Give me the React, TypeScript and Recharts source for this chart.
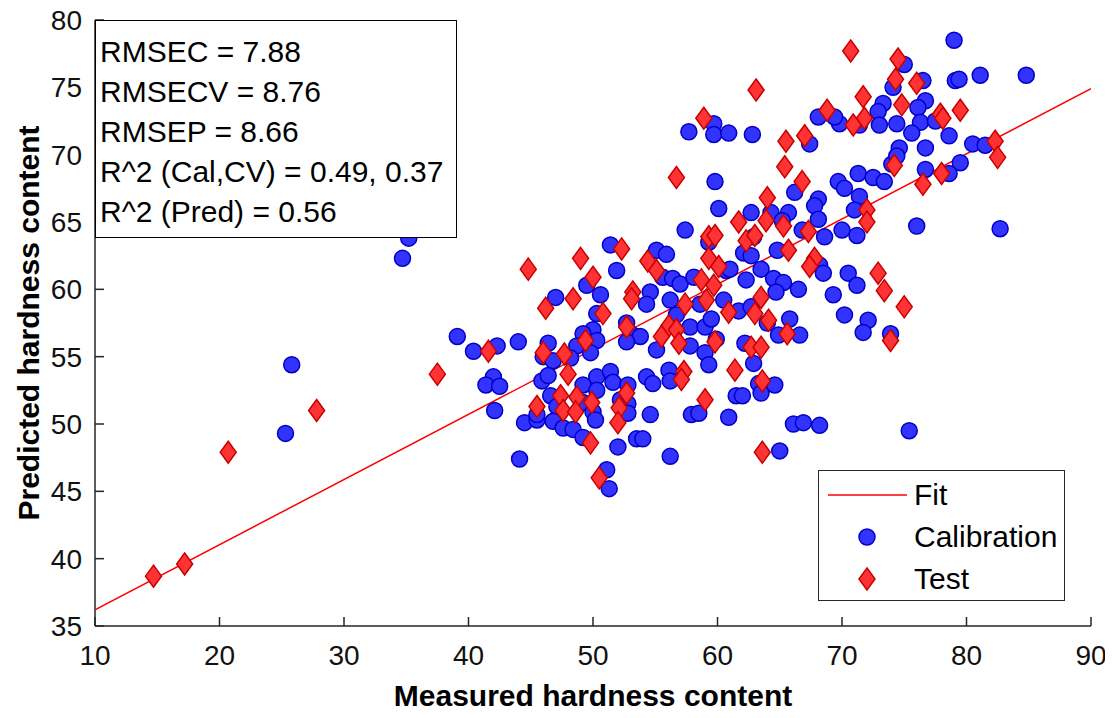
import React from 'react';
import { ScatterChart, Scatter, XAxis, YAxis, Legend } from 'recharts';

// axis ticks
const xTicks = [10, 20, 30, 40, 50, 60, 70, 80, 90];
const yTicks = [35, 40, 45, 50, 55, 60, 65, 70, 75, 80];

// calibration set (measured, predicted)
const calMeasured = [
  25.3, 25.8, 34.7, 35.2, 39.1, 40.4, 42.3, 44.0, 42.0, 41.4, 42.5, 42.1, 44.5, 45.5, 44.1, 47.0, 49.5, 50.6, 51.4, 51.9,
  50.3, 50.0, 49.2, 50.3, 48.7, 49.8, 46.4, 46.0, 46.8, 48.2, 45.9, 46.4, 46.6, 47.1, 45.5, 46.8, 47.6, 48.4, 49.2, 50.3,
  51.4, 51.6, 50.3, 49.2, 50.0, 50.2, 52.2, 52.8, 52.8, 49.2, 52.0, 51.1, 53.5, 54.0, 54.6, 56.2, 52.7, 53.2, 53.8, 52.7,
  54.6, 54.3, 55.1, 55.9, 55.6, 56.4, 57.0, 56.2, 56.7, 57.8, 57.8, 59.0, 59.3, 55.1, 54.3, 54.8, 56.1, 56.2, 57.4, 58.1,
  58.6, 59.0, 59.5, 59.9, 57.9, 60.9, 61.5, 60.7, 60.5, 57.7, 59.7, 59.7, 60.9, 59.8, 60.1, 79.0, 75.0, 74.1, 76.5, 79.1,
  79.4, 81.1, 84.8, 76.7, 76.1, 73.3, 72.9, 74.4, 73.0, 71.4, 69.8, 69.4, 68.1, 76.3, 77.5, 75.6, 78.6, 62.8, 67.4, 74.6,
  76.7, 74.0, 74.4, 80.5, 81.5, 79.5, 78.6, 76.7, 71.3, 72.5, 73.4, 69.7, 70.2, 71.4, 71.0, 66.2, 68.1, 67.8, 68.1, 62.7,
  64.3, 65.7, 65.2, 76.0, 82.7, 66.8, 70.0, 71.2, 68.6, 59.3, 62.9, 62.1, 62.7, 64.8, 61.0, 62.3, 63.5, 64.5, 65.3, 64.7,
  66.5, 68.2, 68.5, 70.5, 71.2, 69.3, 70.2, 72.1, 71.7, 73.9, 61.7, 62.7, 64.0, 65.8, 64.9, 66.6, 62.2, 62.9, 63.3, 63.5,
  64.6, 62.0, 58.5, 66.1, 66.9, 68.2, 75.4, 65.0, 51.3, 52.8,
];
const calPredicted = [
  49.3, 54.4, 62.3, 63.8, 56.5, 55.4, 55.8, 56.1, 53.5, 52.9, 52.8, 51.0, 50.1, 50.3, 47.4, 59.4, 60.3, 59.6, 63.3, 61.4,
  58.2, 57.0, 56.7, 56.2, 55.8, 55.3, 56.0, 55.0, 54.7, 54.9, 53.2, 53.6, 52.1, 51.3, 50.7, 50.2, 49.7, 49.6, 52.9, 53.5,
  53.9, 53.1, 52.5, 51.6, 50.9, 50.3, 51.8, 51.5, 50.8, 49.0, 48.3, 46.6, 48.9, 48.9, 50.7, 47.6, 57.5, 56.6, 56.5, 56.1,
  59.8, 58.9, 62.9, 62.6, 60.9, 60.8, 60.4, 59.2, 58.1, 57.2, 55.8, 55.3, 54.4, 55.5, 53.5, 53.0, 54.0, 53.2, 64.4, 60.9,
  58.9, 57.2, 57.8, 56.3, 50.7, 50.5, 52.1, 61.4, 59.2, 71.7, 72.3, 71.5, 71.6, 68.0, 66.0, 78.5, 76.7, 75.0, 75.5, 75.5,
  75.6, 75.9, 75.9, 74.0, 73.5, 73.8, 73.2, 72.3, 72.2, 72.2, 72.3, 72.8, 72.8, 72.4, 72.5, 71.6, 71.4, 71.5, 70.8, 70.5,
  70.5, 69.3, 69.9, 70.8, 70.7, 69.4, 68.6, 68.9, 68.6, 68.3, 68.0, 68.0, 67.5, 66.9, 65.9, 67.2, 66.7, 66.2, 65.2, 65.7,
  65.7, 65.7, 65.1, 64.7, 64.5, 64.4, 64.4, 64.0, 63.9, 63.5, 63.9, 62.7, 62.5, 62.9, 61.5, 60.7, 61.5, 60.8, 60.5, 59.8,
  60.0, 61.8, 61.2, 61.2, 60.3, 59.6, 58.1, 57.7, 56.8, 56.7, 58.4, 58.7, 57.5, 57.8, 56.6, 56.6, 56.0, 54.5, 53.0, 52.3,
  52.9, 52.1, 50.8, 50.0, 50.1, 49.9, 49.5, 48.0, 45.2, 52.9,
];

// test set (measured, predicted)
const testMeasured = [
  14.7, 17.2, 20.7, 27.8, 37.5, 41.6, 44.8, 46.2, 46.0, 45.5, 48.4, 49.0, 50.0, 50.8, 49.4, 47.7, 48.0, 47.4, 48.7, 47.6,
  48.6, 49.9, 49.8, 52.3, 53.2, 53.1, 52.7, 52.7, 52.1, 52.0, 54.4, 55.1, 56.1, 55.5, 56.7, 56.9, 57.4, 57.3, 57.1, 59.0,
  59.3, 59.8, 59.3, 60.1, 58.7, 59.7, 59.1, 60.9, 59.8, 61.4, 61.7, 58.9, 56.7, 70.7, 74.5, 74.3, 76.0, 63.1, 71.7, 74.8,
  79.5, 77.9, 78.1, 68.8, 71.8, 70.9, 65.5, 67.0, 65.4, 66.8, 74.2, 76.5, 78.0, 82.3, 82.5, 64.0, 63.9, 65.3, 72.0, 72.0,
  67.3, 62.3, 63.0, 65.7, 63.0, 63.5, 64.1, 65.6, 67.8, 67.4, 72.9, 73.4, 75.0, 73.9, 62.7, 63.5, 63.6, 63.6, 50.5,
];
const testPredicted = [
  38.7, 39.6, 47.9, 51.0, 53.7, 55.4, 61.5, 58.6, 55.3, 51.3, 59.3, 62.3, 60.9, 58.2, 56.2, 55.2, 53.7, 52.1, 52.0, 51.0,
  50.9, 51.6, 48.6, 63.0, 59.8, 59.3, 57.2, 52.3, 51.2, 50.1, 62.1, 61.4, 57.3, 56.5, 57.0, 56.0, 58.9, 53.9, 53.3, 51.8,
  63.9, 64.0, 62.3, 61.7, 60.7, 60.3, 59.2, 58.3, 56.1, 54.0, 65.0, 72.7, 68.3, 77.7, 77.1, 75.6, 75.3, 74.8, 74.3, 73.7,
  73.3, 73.0, 72.7, 73.3, 72.7, 72.2, 71.0, 71.4, 69.1, 68.0, 69.2, 67.8, 68.6, 71.0, 69.8, 66.8, 65.1, 64.7, 65.9, 65.0,
  64.3, 63.6, 64.0, 62.9, 58.2, 59.4, 57.7, 56.7, 62.3, 61.7, 61.2, 59.9, 58.7, 56.2, 55.7, 55.7, 53.2, 47.9, 46.0,
];

// fitted line end points
const fitMeasured = [10, 90];
const fitPredicted = [36.2, 74.9];

const statsLines = [
  'RMSEC = 7.88',
  'RMSECV = 8.76',
  'RMSEP = 8.66',
  'R^2 (Cal,CV) = 0.49, 0.37',
  'R^2 (Pred) = 0.56',
];

const calData = calMeasured.map((x, i) => ({ x, y: calPredicted[i] }));
const testData = testMeasured.map((x, i) => ({ x, y: testPredicted[i] }));
const fitData = fitMeasured.map((x, i) => ({ x, y: fitPredicted[i] }));

const FONT = '"Liberation Sans", Arial, sans-serif';
const AXIS_COLOR = '#262626';
const TM = 10; // tick margin used to recover the axis position
const TICK_LEN = 9;

const BLUE = '#3333ff';
const BLUE_EDGE = '#0000c8';
const RED = '#ff3333';
const RED_EDGE = '#c80000';

const CircleMark = ({ cx, cy }: any) => (
  <circle cx={cx} cy={cy} r={8} fill={BLUE} stroke={BLUE_EDGE} strokeWidth={1.5} />
);

const DiamondMark = ({ cx, cy }: any) => (
  <polygon
    points={`${cx},${cy - 11} ${cx + 8},${cy} ${cx},${cy + 11} ${cx - 8},${cy}`}
    fill={RED}
    stroke={RED_EDGE}
    strokeWidth={1.5}
  />
);

const BottomTick = ({ x, y, payload }: any) => {
  const axisY = y - TM;
  return (
    <g>
      <line x1={x} x2={x} y1={axisY} y2={axisY - TICK_LEN} stroke={AXIS_COLOR} strokeWidth={1.5} />
      <text x={x} y={axisY + 39} textAnchor="middle" fontSize={28} fontFamily={FONT} fill="#111">
        {payload.value}
      </text>
    </g>
  );
};

const TopTick = ({ x, y }: any) => {
  const axisY = y + TM;
  return <line x1={x} x2={x} y1={axisY} y2={axisY + TICK_LEN} stroke={AXIS_COLOR} strokeWidth={1.5} />;
};

const LeftTick = ({ x, y, payload }: any) => {
  const axisX = x + TM;
  return (
    <g>
      <line x1={axisX} x2={axisX + TICK_LEN} y1={y} y2={y} stroke={AXIS_COLOR} strokeWidth={1.5} />
      <text x={axisX - 13} y={y + 10} textAnchor="end" fontSize={28} fontFamily={FONT} fill="#111">
        {payload.value}
      </text>
    </g>
  );
};

const RightTick = ({ x, y }: any) => {
  const axisX = x - TM;
  return <line x1={axisX} x2={axisX - TICK_LEN} y1={y} y2={y} stroke={AXIS_COLOR} strokeWidth={1.5} />;
};

const LegendBox = () => (
  <div
    style={{
      width: 247,
      height: 131,
      boxSizing: 'border-box',
      border: `1.5px solid ${AXIS_COLOR}`,
      background: '#fff',
      fontFamily: FONT,
      fontSize: 30,
      color: '#000',
      position: 'relative',
    }}
  >
    {[
      { label: 'Fit', kind: 'line' },
      { label: 'Calibration', kind: 'circle' },
      { label: 'Test', kind: 'diamond' },
    ].map((item, i) => (
      <div key={item.label} style={{ position: 'absolute', left: 0, top: 3 + i * 42, height: 42, display: 'flex', alignItems: 'center' }}>
        <svg width={95} height={42}>
          {item.kind === 'line' && <line x1={9} x2={88} y1={21} y2={21} stroke="#ff0000" strokeWidth={1.5} />}
          {item.kind === 'circle' && <CircleMark cx={48} cy={21} />}
          {item.kind === 'diamond' && <DiamondMark cx={48} cy={21} />}
        </svg>
        <span style={{ lineHeight: '42px' }}>{item.label}</span>
      </div>
    ))}
  </div>
);

const App: React.FC = () => {
  return (
    <div style={{ position: 'relative', width: 1097, height: 702, background: '#fff' }}>
      <style>{'.recharts-surface { overflow: visible; }'}</style>
      <ScatterChart width={1097} height={702} margin={{ top: 12, right: 14, left: 0, bottom: 0 }}>
        <XAxis
          xAxisId="bottom"
          dataKey="x"
          type="number"
          domain={[10, 90]}
          ticks={xTicks}
          allowDataOverflow
          height={84}
          tickSize={0}
          tickMargin={TM}
          tickLine={false}
          tick={<BottomTick />}
          axisLine={{ stroke: AXIS_COLOR, strokeWidth: 1.5 }}
          label={{
            content: ({ viewBox }: any) => (
              <text
                x={viewBox.x + viewBox.width / 2}
                y={viewBox.y + 80}
                textAnchor="middle"
                fontSize={30}
                fontWeight="bold"
                fontFamily={FONT}
                fill="#000"
              >
                Measured hardness content
              </text>
            ),
          }}
        />
        <XAxis
          xAxisId="top"
          orientation="top"
          dataKey="x"
          type="number"
          domain={[10, 90]}
          ticks={xTicks}
          allowDataOverflow
          height={0}
          tickSize={0}
          tickMargin={TM}
          tickLine={false}
          tick={<TopTick />}
          axisLine={{ stroke: AXIS_COLOR, strokeWidth: 1.5 }}
        />
        <YAxis
          yAxisId="left"
          dataKey="y"
          type="number"
          domain={[35, 80]}
          ticks={yTicks}
          allowDataOverflow
          width={87}
          tickSize={0}
          tickMargin={TM}
          tickLine={false}
          tick={<LeftTick />}
          axisLine={{ stroke: AXIS_COLOR, strokeWidth: 1.5 }}
          label={{
            content: ({ viewBox }: any) => {
              const cx = viewBox.x + 20;
              const cy = viewBox.y + viewBox.height / 2;
              return (
                <text
                  x={cx}
                  y={cy}
                  transform={`rotate(-90 ${cx} ${cy})`}
                  textAnchor="middle"
                  dominantBaseline="central"
                  fontSize={30}
                  fontWeight="bold"
                  fontFamily={FONT}
                  fill="#000"
                >
                  Predicted hardness content
                </text>
              );
            },
          }}
        />
        <YAxis
          yAxisId="right"
          orientation="right"
          dataKey="y"
          type="number"
          domain={[35, 80]}
          ticks={yTicks}
          allowDataOverflow
          width={0}
          tickSize={0}
          tickMargin={TM}
          tickLine={false}
          tick={<RightTick />}
          axisLine={{ stroke: AXIS_COLOR, strokeWidth: 1.5 }}
        />
        <Legend
          layout="vertical"
          align="center"
          verticalAlign="middle"
          wrapperStyle={{ left: 810, top: 462, width: 247, height: 131 }}
          content={() => <LegendBox />}
        />
        <Scatter
          name="Fit"
          data={fitData}
          xAxisId="bottom"
          yAxisId="left"
          line={{ stroke: '#ff0000', strokeWidth: 1.5 }}
          shape={() => <g />}
          legendType="line"
          isAnimationActive={false}
        />
        <Scatter
          name="Calibration"
          data={calData}
          xAxisId="bottom"
          yAxisId="left"
          shape={<CircleMark />}
          isAnimationActive={false}
        />
        <Scatter
          name="Test"
          data={testData}
          xAxisId="bottom"
          yAxisId="left"
          shape={<DiamondMark />}
          isAnimationActive={false}
        />
      </ScatterChart>
      {/* statistics box */}
      <div
        style={{
          position: 'absolute',
          left: 87,
          top: 12,
          width: 362,
          height: 218,
          boxSizing: 'border-box',
          border: '1.5px solid #000',
          background: '#fff',
          paddingTop: 11,
          paddingLeft: 4,
          fontFamily: FONT,
          fontSize: 30,
          lineHeight: '40px',
          color: '#000',
          whiteSpace: 'nowrap',
        }}
      >
        {statsLines.map((line) => (
          <div key={line}>{line}</div>
        ))}
      </div>
    </div>
  );
};

export default App;
